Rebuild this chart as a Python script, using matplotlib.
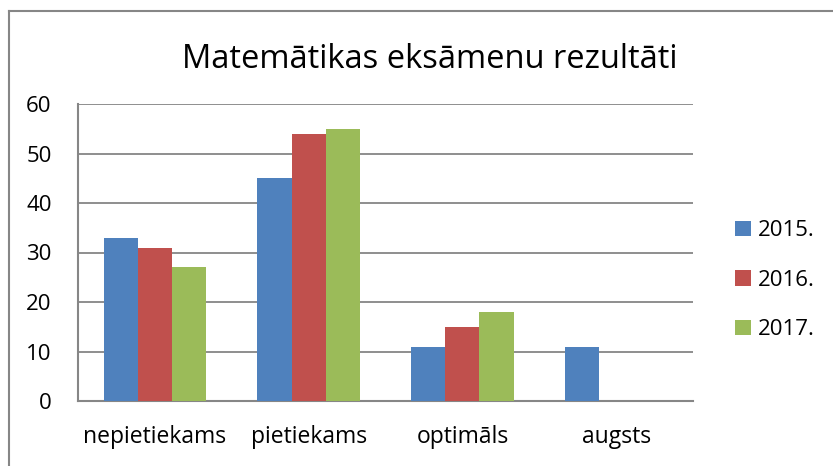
import numpy as np
import matplotlib
matplotlib.use('Agg')
import matplotlib.pyplot as plt
from matplotlib.lines import Line2D

plt.rcParams['font.family'] = ['Open Sans', 'DejaVu Sans']

categories = ['nepietiekams', 'pietiekams', 'optimāls', 'augsts']
years = ['2015.', '2016.', '2017.']
v2015 = [33, 45, 11, 11]
v2016 = [31, 54, 15, 0]
v2017 = [27, 55, 18, 0]
colors = ['#4F81BD', '#C0504D', '#9BBB59']

fig = plt.figure(figsize=(8.33, 4.66), dpi=100)
ax = fig.add_axes([78 / 833, 65 / 466, 615 / 833, 297 / 466])

x = np.arange(len(categories))
w = 1 / 4.5
for i, (vals, lab) in enumerate(zip([v2015, v2016, v2017], years)):
    ax.bar(x + (i - 1) * w, vals, width=w, color=colors[i], label=lab, zorder=3)

ax.set_xlim(-0.5, len(categories) - 0.5)
ax.set_ylim(0, 60)
ax.set_yticks(range(0, 61, 10))
ax.set_xticks(x)
ax.set_xticklabels(categories)
ax.yaxis.grid(True, color='#868686', linewidth=1.3, zorder=0)
ax.tick_params(axis='both', length=0, labelsize=16, colors='black')
ax.tick_params(axis='y', pad=19)
ax.tick_params(axis='x', labelsize=16.5, pad=17)
for s in ['top', 'right']:
    ax.spines[s].set_visible(False)
for s in ['left', 'bottom']:
    ax.spines[s].set_color('#868686')
    ax.spines[s].set_linewidth(1.5)

fig.text(430 / 833, 1 - 60 / 466, 'Matemātikas eksāmenu rezultāti',
         ha='center', va='center', fontsize=23.5)

ax.legend(loc='center left', bbox_to_anchor=((735 - 78) / 615, 0.406), frameon=False,
          fontsize=16, handlelength=0.7, handleheight=0.7, handletextpad=0.35,
          labelspacing=1.28, borderaxespad=0, borderpad=0)

# outer chart frame (cropped on right and bottom)
fig.add_artist(Line2D([8.5 / 833, 8.5 / 833], [-0.01, 1 - 11 / 466],
                      transform=fig.transFigure, color='#868686', linewidth=1.5))
fig.add_artist(Line2D([8.5 / 833, 1.01], [1 - 11 / 466, 1 - 11 / 466],
                      transform=fig.transFigure, color='#868686', linewidth=1.5))

fig.savefig('out.png', dpi=100)
